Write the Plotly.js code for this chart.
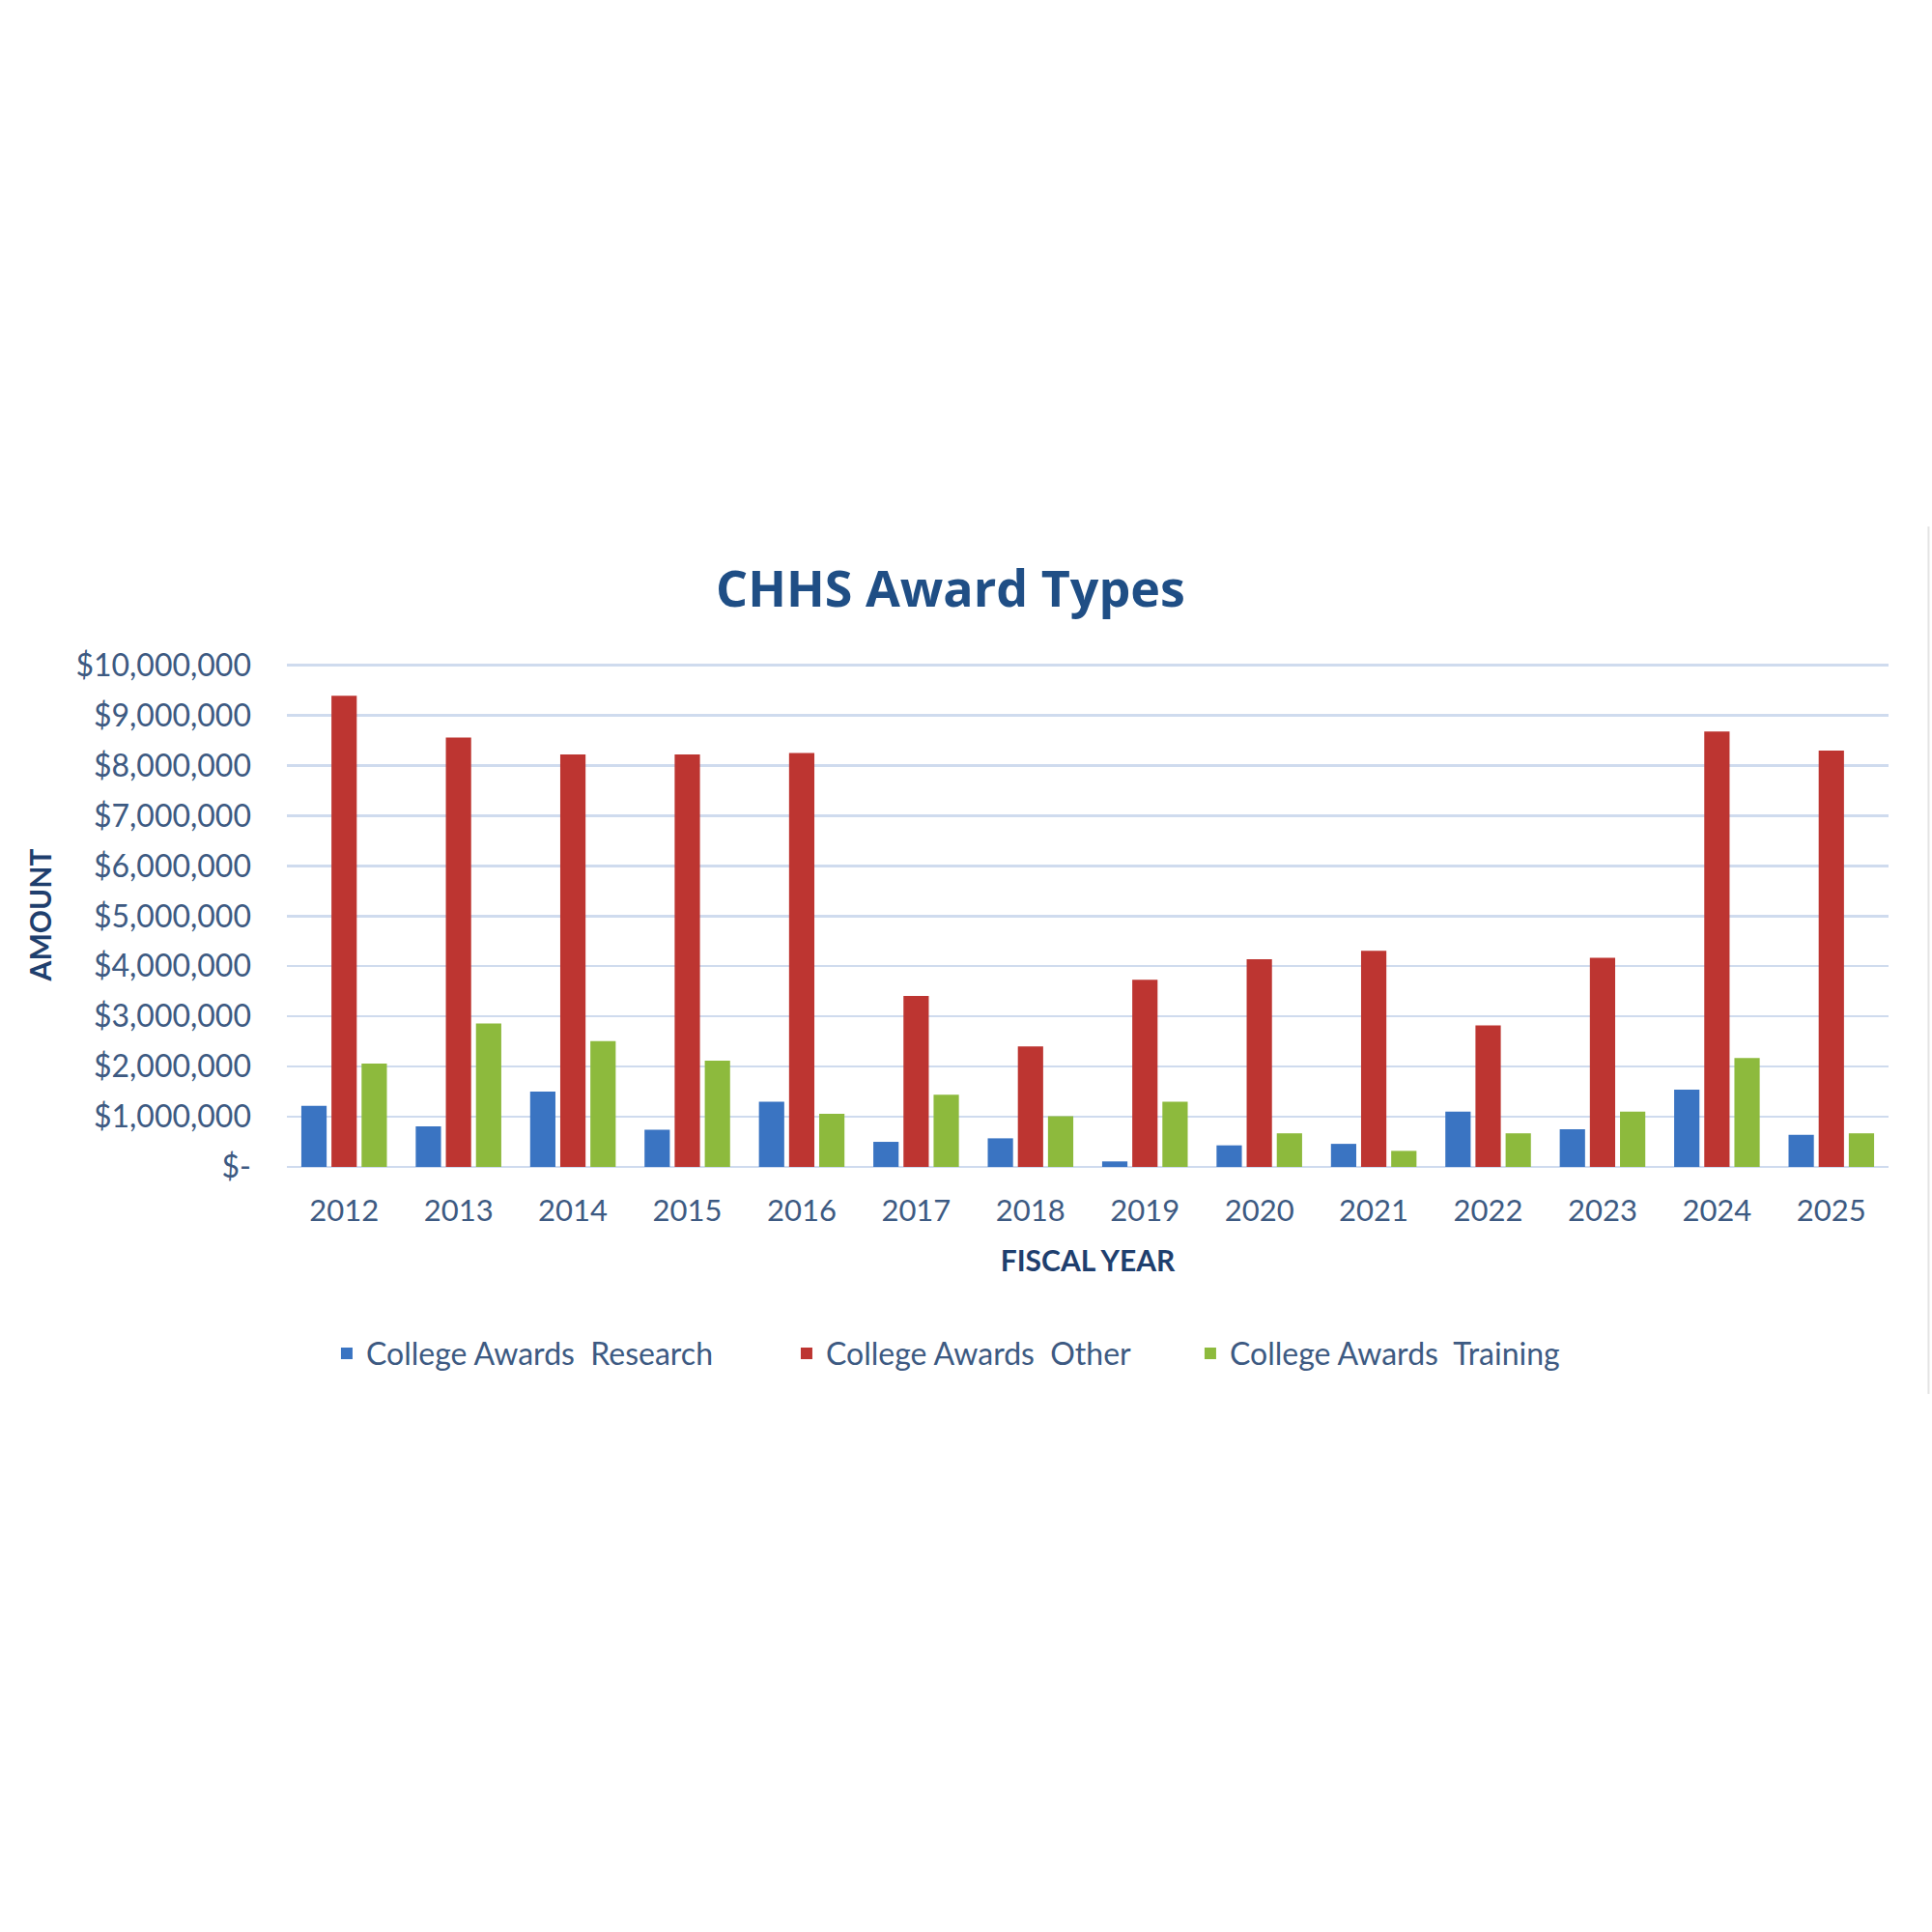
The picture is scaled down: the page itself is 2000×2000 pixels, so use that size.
<!DOCTYPE html>
<html>
<head>
<meta charset="utf-8">
<script src="https://cdn.plot.ly/plotly-3.0.1.min.js"></script>
<style>
  html, body { margin: 0; padding: 0; background: #ffffff; }
  #chart { width: 2000px; height: 2000px; }
</style>
</head>
<body>
<div id="chart"></div>
<script>
// fiscal years and award amounts
var years = ['2012', '2013', '2014', '2015', '2016', '2017', '2018',
             '2019', '2020', '2021', '2022', '2023', '2024', '2025'];

var research = [1220000, 810000, 1500000, 740000, 1300000, 500000, 570000,
                110000, 430000, 460000, 1100000, 750000, 1540000, 640000];
var other = [9390000, 8560000, 8220000, 8220000, 8250000, 3410000, 2400000,
             3730000, 4140000, 4310000, 2820000, 4170000, 8680000, 8300000];
var training = [2060000, 2860000, 2510000, 2120000, 1060000, 1440000, 1010000,
                1300000, 670000, 320000, 670000, 1100000, 2170000, 670000];

var seriesNames = ['College Awards\u00a0 Research', 'College Awards\u00a0 Other', 'College Awards\u00a0 Training'];

var yTickVals = [0, 1000000, 2000000, 3000000, 4000000, 5000000, 6000000,
                 7000000, 8000000, 9000000, 10000000];
var yTickText = ['$-', '$1,000,000', '$2,000,000', '$3,000,000', '$4,000,000', '$5,000,000',
                 '$6,000,000', '$7,000,000', '$8,000,000', '$9,000,000', '$10,000,000'];

var tickColor = '#3d5a82';
var darkBlue = '#1f3f6e';
var gridColor = '#cfdbee';

function barTrace(values, name, color, legendId) {
    return {
        x: years,
        y: values,
        name: name,
        type: 'bar',
        legend: legendId,
        marker: { color: color, line: { width: 0 } },
        hoverinfo: 'x+y+name'
    };
}

function legendAt(x) {
    return {
        orientation: 'h',
        x: x,
        xanchor: 'left',
        y: -0.37,
        yanchor: 'middle',
        bgcolor: 'rgba(0,0,0,0)',
        font: { size: 32, color: tickColor },
        itemwidth: 30
    };
}

var data = [
    barTrace(research, seriesNames[0], '#3a74c2', 'legend'),
    barTrace(other, seriesNames[1], '#bd3531', 'legend2'),
    barTrace(training, seriesNames[2], '#8dba3d', 'legend3')
];

var layout = {
    width: 2000,
    height: 2000,
    paper_bgcolor: '#ffffff',
    plot_bgcolor: '#ffffff',
    margin: { l: 297, r: 45, t: 686, b: 792 },
    font: { family: 'Lato, "Open Sans", sans-serif', size: 31, color: tickColor },
    title: {
        text: '<b>CHHS Award Types</b>',
        font: { family: '"Open Sans", sans-serif', size: 52, color: '#1f4e85' },
        x: 0.492,
        xanchor: 'center',
        y: 0.695,
        yanchor: 'middle',
        yref: 'container'
    },
    barmode: 'group',
    bargap: 0.21,
    bargroupgap: 0.16,
    showlegend: true,
    legend: legendAt(0.0253),
    legend2: legendAt(0.3124),
    legend3: legendAt(0.5645),
    xaxis: {
        type: 'category',
        showgrid: false,
        showline: false,
        ticks: '',
        ticklabelstandoff: 24,
        tickfont: { size: 31, color: tickColor },
        title: {
            text: '<b>FISCAL YEAR</b>',
            font: { size: 30, color: darkBlue },
            standoff: 24
        }
    },
    yaxis: {
        range: [0, 10050000],
        tickvals: yTickVals,
        ticktext: yTickText,
        showgrid: true,
        gridcolor: gridColor,
        gridwidth: 2.5,
        zeroline: true,
        zerolinecolor: gridColor,
        zerolinewidth: 2.5,
        showline: false,
        ticks: '',
        ticklabelstandoff: 36,
        tickfont: { size: 32, color: tickColor },
        title: {
            text: '<b>AMOUNT</b>',
            font: { size: 30, color: darkBlue },
            standoff: 15
        }
    },
    shapes: [{
        type: 'line',
        xref: 'paper', yref: 'paper',
        x0: 1.025, x1: 1.025,
        y0: 1.27, y1: -0.45,
        line: { color: '#e4e4e4', width: 2 }
    }]
};

Plotly.newPlot('chart', data, layout, { displayModeBar: false, staticPlot: true });
</script>
</body>
</html>
